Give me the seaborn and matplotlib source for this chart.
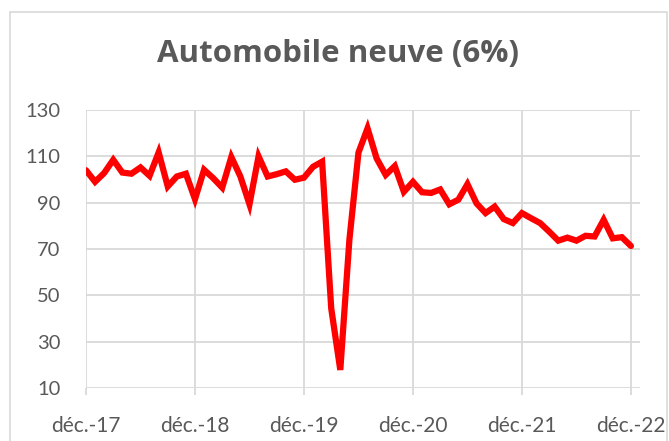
import numpy as np
import pandas as pd
import matplotlib.pyplot as plt
import seaborn as sns
from matplotlib.patches import Rectangle

# monthly index, déc.-17 .. déc.-22
values = [104, 99, 102.8, 108.5, 103, 102.5, 105.2, 101.6, 111.7, 97, 101.3, 102.5,
          91.5, 104.2, 100.6, 96.5, 109.7, 101.3, 89.3, 110, 101.3, 102.3, 103.5, 99.9,
          100.8, 105.5, 107.7, 44.4, 17.8, 73.9, 111.6, 122.1, 109.1, 102, 105.8, 94.7,
          99, 94.5, 94.2, 95.7, 89.3, 91.3, 98, 89.7, 85.5, 88.3, 82.9, 81.2,
          85.5, 83.3, 81.2, 77.5, 73.6, 74.9, 73.6, 75.7, 75.4, 82.6, 74.6, 75.1,
          71.3]
tick_labels = ["déc.-17", "déc.-18", "déc.-19", "déc.-20", "déc.-21", "déc.-22"]
y_ticks = [10, 30, 50, 70, 90, 110, 130]

df = pd.DataFrame({"mois": np.arange(len(values)), "indice": values})

sns.set_style("white")
plt.rcParams['font.family'] = ['Lato', 'DejaVu Sans']

fig = plt.figure(figsize=(6.69, 4.41), dpi=100)
ax = fig.add_axes([86/669, 53/441, 554/669, 278/441])

grid_col = "#d9d9d9"
text_col = "#595959"

sns.lineplot(data=df, x="mois", y="indice", color="#ff0000", linewidth=4.5, ax=ax,
             solid_joinstyle="miter")

ax.set_xlim(0, 61)
ax.set_ylim(10, 130)
ax.set_xticks(np.arange(0, 61, 12))
ax.set_xticklabels(tick_labels)
ax.set_yticks(y_ticks)
ax.set_xlabel("")
ax.set_ylabel("")
ax.grid(True, color=grid_col, linewidth=1.3)
ax.set_axisbelow(True)
for s in ax.spines.values():
    s.set_visible(False)
ax.tick_params(axis="x", length=5, width=1.3, color=grid_col, colors=text_col,
               labelsize=15, pad=15, bottom=True)
ax.tick_params(axis="y", length=0, colors=text_col, labelsize=14.5, pad=18.5)

fig.text(338/669, 1 - 54/441, "Automobile neuve (6%)", ha="center", va="center",
         fontsize=22.5, fontweight="bold", color=text_col,
         family=["Open Sans", "DejaVu Sans"])

# chart area border
fig.patches.append(Rectangle((10/669, -0.05), 657/669, 1.05 - 12/441,
                             transform=fig.transFigure, fill=False,
                             edgecolor=grid_col, linewidth=1.2))

fig.savefig("out.png", dpi=100)
